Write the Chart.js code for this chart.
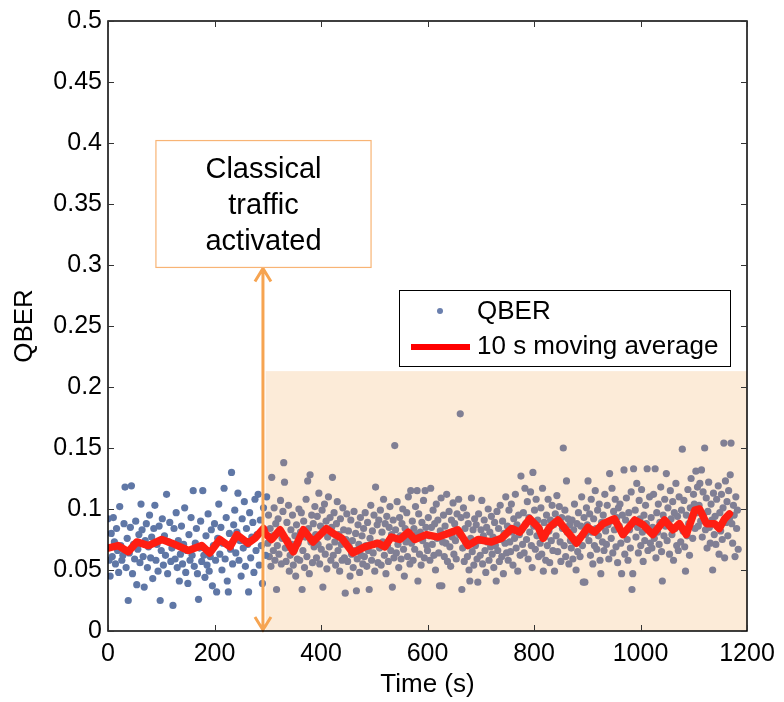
<!DOCTYPE html>
<html>
<head>
<meta charset="utf-8">
<title>QBER vs time</title>
<script src="https://cdn.jsdelivr.net/npm/chart.js@4.4.1/dist/chart.umd.min.js"></script>
<style>
    html, body { margin: 0; padding: 0; background: #fff; }
    #wrap { width: 784px; height: 702px; }
</style>
</head>
<body>
<div id="wrap"><canvas id="qber-chart" width="784" height="702"></canvas></div>
<script>
// QBER samples in units of 1e-3, before classical traffic (one every 2 s from t = 0)
const beforeStart = 0;
const beforeStep = 2;
const qberBefore = [
    92, 58, 45, 80, 61, 93, 73, 55, 84, 66, 48, 102, 70, 58, 62, 88, 118, 52, 76, 25,
    64, 85, 119, 47, 71, 59, 90, 38, 67, 79, 56, 104, 83, 61, 36, 74, 88, 52, 69, 95,
    60, 77, 43, 84, 103, 58, 71, 49, 86, 25, 66, 92, 54, 78, 62, 112, 47, 73, 89, 57,
    68, 21, 84, 59, 97, 52, 74, 41, 63, 86, 55, 71, 101, 48, 66, 39, 79, 58, 93, 62,
    115, 53, 72, 84, 47, 26, 68, 90, 57, 115, 62, 44, 78, 54, 96, 49, 61, 83, 37, 70,
    88, 58, 32, 76, 104, 63, 85, 50, 72, 117, 59, 93, 41, 32, 80, 67, 130, 55, 87, 99,
    64, 81, 113, 58, 74, 45, 92, 68, 106, 53, 84, 71, 32, 97, 60, 77, 89, 48, 108, 66,
    79, 112, 54, 91, 70, 39, 101, 83, 62, 110
];

// QBER samples in units of 1e-3, with classical traffic (one every 1.5 s from t = 300)
const afterStart = 300;
const afterStep = 1.5;
const qberAfter = [
    72, 95, 61, 84, 53, 126, 78, 66, 101, 58, 88, 34, 70, 92, 63, 81, 107, 55, 76, 98,
    138, 122, 68, 57, 89, 74, 103, 49, 62, 83, 71, 95, 54, 66, 78, 45, 87, 59, 72, 100,
    58, 81, 97, 34, 66, 90, 52, 77, 108, 61, 123, 84, 47, 128, 73, 95, 56, 88, 69, 102,
    79, 60, 94, 71, 113, 55, 86, 67, 99, 36, 82, 104, 63, 90, 51, 77, 110, 69, 93, 58,
    85, 126, 62, 97, 73, 54, 88, 106, 66, 79, 49, 92, 71, 58, 101, 83, 60, 31, 75, 96,
    57, 82, 69, 45, 91, 63, 74, 52, 98, 66, 80, 33, 59, 87, 71, 48, 93, 62, 78, 55,
    84, 61, 97, 70, 53, 89, 66, 34, 76, 103, 58, 82, 64, 95, 49, 118, 72, 87, 56, 91,
    68, 99, 54, 81, 73, 108, 62, 88, 47, 94, 70, 57, 85, 102, 66, 79, 36, 91, 60, 152,
    83, 64, 106, 71, 52, 93, 78, 59, 88, 100, 67, 45, 84, 73, 97, 61, 110, 76, 55, 115,
    72, 90, 58, 84, 67, 102, 79, 115, 41, 96, 63, 81, 54, 89, 74, 107, 60, 115, 85, 70,
    66, 93, 78, 58, 117, 85, 71, 99, 62, 88, 50, 104, 76, 91, 64, 37, 82, 109, 37, 73,
    95, 61, 86, 72, 112, 57, 80, 98, 69, 53, 91, 77, 105, 63, 88, 74, 59, 96, 82, 108,
    79, 178, 93, 34, 68, 101, 57, 84, 72, 95, 61, 88, 50, 41, 76, 109, 65, 83, 54, 92,
    70, 87, 59, 40, 96, 74, 62, 83, 107, 55, 78, 91, 66, 48, 85, 73, 100, 58, 81, 69,
    94, 63, 77, 52, 89, 70, 41, 98, 66, 84, 57, 103, 75, 61, 90, 47, 80, 72, 110, 64,
    86, 58, 99, 73, 65, 104, 81, 54, 92, 76, 112, 68, 87, 49, 95, 79, 62, 127, 83, 71,
    97, 64, 117, 88, 75, 106, 59, 93, 81, 114, 70, 52, 130, 86, 99, 67, 108, 78, 91, 61,
    84, 72, 101, 63, 117, 49, 89, 77, 58, 95, 70, 108, 82, 56, 91, 74, 103, 66, 87, 49,
    96, 78, 111, 65, 89, 102, 73, 57, 93, 84, 150, 70, 99, 61, 123, 81, 92, 55, 87, 74,
    68, 91, 59, 83, 104, 72, 50, 88, 65, 97, 76, 61, 86, 110, 70, 40, 93, 40, 79, 101,
    87, 123, 74, 96, 62, 108, 81, 55, 92, 70, 115, 84, 67, 99, 78, 104, 58, 47, 89, 73,
    95, 66, 112, 82, 71, 103, 87, 59, 129, 90, 76, 117, 64, 98, 83, 108, 69, 93, 56, 101,
    86, 104, 72, 47, 95, 80, 132, 63, 91, 109, 75, 58, 97, 83, 68, 114, 34, 47, 133, 88,
    99, 77, 121, 85, 64, 107, 92, 70, 116, 81, 57, 95, 74, 103, 88, 133, 66, 84, 110, 72,
    93, 68, 85, 112, 76, 133, 60, 97, 81, 104, 71, 89, 118, 65, 41, 95, 78, 108, 86, 129,
    74, 101, 88, 63, 115, 92, 79, 106, 58, 97, 84, 121, 70, 94, 66, 110, 87, 73, 99, 149,
    82, 107, 69, 49, 95, 78, 116, 88, 62, 101, 125, 93, 76, 112, 104, 84, 131, 97, 118, 86,
    103, 121, 90, 132, 77, 114, 96, 150, 83, 109, 68, 98, 122, 85, 72, 104, 91, 50, 113, 79,
    94, 71, 108, 86, 119, 63, 97, 82, 112, 75, 101, 154, 60, 123, 89, 106, 78, 115, 92, 128,
    154, 88, 72, 103, 95, 61, 110, 84, 99, 67
];

// 10 s moving average
const avgTime = [
    0, 19, 38, 54, 76, 101, 120, 151, 176, 191, 210, 229, 242, 263, 276, 292, 295, 307, 323, 348,
    367, 385, 410, 423, 439, 460, 482, 507, 520, 532, 548, 564, 576, 598, 620, 639, 657, 676, 695, 720,
    739, 758, 773, 792, 808, 817, 829, 845, 858, 880, 901, 914, 930, 951, 967, 989, 1005, 1023, 1045, 1061,
    1073, 1086, 1102, 1111, 1124, 1139, 1148, 1158, 1167
];
const avgValue = [
    0.068, 0.070, 0.065, 0.073, 0.070, 0.075, 0.072, 0.066, 0.070, 0.064, 0.075, 0.069, 0.079, 0.072, 0.076, 0.084, 0.080, 0.075, 0.083, 0.065,
    0.083, 0.073, 0.084, 0.080, 0.076, 0.064, 0.069, 0.072, 0.069, 0.077, 0.075, 0.081, 0.075, 0.079, 0.077, 0.080, 0.083, 0.070, 0.075, 0.073,
    0.076, 0.084, 0.081, 0.092, 0.085, 0.076, 0.085, 0.091, 0.084, 0.072, 0.085, 0.081, 0.088, 0.092, 0.079, 0.091, 0.087, 0.079, 0.091, 0.083,
    0.088, 0.079, 0.099, 0.100, 0.088, 0.088, 0.084, 0.092, 0.096
];

// axis ticks
const xTickValues = [0, 200, 400, 600, 800, 1000, 1200];
const yTickValues = [0, 0.05, 0.1, 0.15, 0.2, 0.25, 0.3, 0.35, 0.4, 0.45, 0.5];

// annotation: traffic switched on
const trafficStart = 296;
const shadeTop = 0.213;
const arrowTime = 291;
const noteLines = ['Classical', 'traffic', 'activated'];
const noteBox = { x0: 90, x1: 494, y0: 0.298, y1: 0.402 };

const FONT = '"Liberation Sans", Arial, Helvetica, sans-serif';
const BLUE = '#5f77a6';
const GREY = '#807f94';
const RED = '#ff1e12';
const ORANGE = '#f6a451';

function toPoints(values, start, step) {
    return values.map((v, i) => ({ x: start + i * step, y: v / 1000 }));
}

const beforePoints = toPoints(qberBefore, beforeStart, beforeStep);
const afterPoints = toPoints(qberAfter, afterStart, afterStep);
const avgPoints = avgTime.map((t, i) => ({ x: t, y: avgValue[i] }));

// shading behind the points, arrow / note / frame / legend on top
const decorations = {
    id: 'decorations',
    beforeDatasetsDraw(chart) {
        const { ctx, scales: { x, y } } = chart;
        const x0 = x.getPixelForValue(trafficStart);
        const x1 = x.getPixelForValue(1200);
        const y0 = y.getPixelForValue(shadeTop);
        const y1 = y.getPixelForValue(0);
        ctx.save();
        ctx.fillStyle = '#fcebd8';
        ctx.fillRect(x0, y0, x1 - x0, y1 - y0);
        ctx.restore();
    },
    afterDatasetsDraw(chart) {
        const { ctx, chartArea: area, scales: { x, y } } = chart;
        ctx.save();

        // double-headed arrow
        const ax = x.getPixelForValue(arrowTime);
        const aTop = y.getPixelForValue(noteBox.y0);
        const aBot = y.getPixelForValue(0);
        ctx.strokeStyle = ORANGE;
        ctx.lineWidth = 3;
        ctx.beginPath();
        ctx.moveTo(ax, aTop + 1);
        ctx.lineTo(ax, aBot - 1);
        ctx.moveTo(ax - 8, aTop + 14);
        ctx.lineTo(ax, aTop + 1);
        ctx.lineTo(ax + 8, aTop + 14);
        ctx.moveTo(ax - 8, aBot - 14);
        ctx.lineTo(ax, aBot - 1);
        ctx.lineTo(ax + 8, aBot - 14);
        ctx.stroke();

        // note box
        const bx0 = x.getPixelForValue(noteBox.x0);
        const bx1 = x.getPixelForValue(noteBox.x1);
        const by0 = y.getPixelForValue(noteBox.y1);
        const by1 = y.getPixelForValue(noteBox.y0);
        ctx.fillStyle = '#fff';
        ctx.fillRect(bx0, by0, bx1 - bx0, by1 - by0);
        ctx.strokeStyle = '#f8b475';
        ctx.lineWidth = 1.2;
        ctx.strokeRect(bx0, by0, bx1 - bx0, by1 - by0);
        ctx.fillStyle = '#000';
        ctx.font = '29px ' + FONT;
        ctx.textAlign = 'center';
        ctx.textBaseline = 'middle';
        noteLines.forEach((line, i) => {
            ctx.fillText(line, (bx0 + bx1) / 2, by0 + 29 + i * 36);
        });

        // frame with inward ticks on all sides
        ctx.strokeStyle = '#000';
        ctx.lineWidth = 1.5;
        ctx.strokeRect(area.left, area.top, area.right - area.left, area.bottom - area.top);
        ctx.lineWidth = 1;
        ctx.strokeStyle = '#333';
        ctx.beginPath();
        xTickValues.forEach(v => {
            const px = Math.round(x.getPixelForValue(v)) + 0.5;
            ctx.moveTo(px, area.bottom);
            ctx.lineTo(px, area.bottom - 6);
            ctx.moveTo(px, area.top);
            ctx.lineTo(px, area.top + 6);
        });
        yTickValues.forEach(v => {
            const py = Math.round(y.getPixelForValue(v)) + 0.5;
            ctx.moveTo(area.left, py);
            ctx.lineTo(area.left + 6, py);
            ctx.moveTo(area.right, py);
            ctx.lineTo(area.right - 6, py);
        });
        ctx.stroke();

        // legend
        ctx.fillStyle = '#fff';
        ctx.fillRect(399, 290, 332, 77);
        ctx.strokeStyle = '#000';
        ctx.lineWidth = 1;
        ctx.strokeRect(399.5, 290.5, 331, 76);
        ctx.fillStyle = '#6a7fae';
        ctx.beginPath();
        ctx.arc(440, 311, 3, 0, Math.PI * 2);
        ctx.fill();
        ctx.strokeStyle = '#ff0000';
        ctx.lineWidth = 6;
        ctx.beginPath();
        ctx.moveTo(411, 347);
        ctx.lineTo(470, 347);
        ctx.stroke();
        ctx.fillStyle = '#000';
        ctx.font = '26px ' + FONT;
        ctx.textAlign = 'left';
        ctx.textBaseline = 'middle';
        ctx.fillText('QBER', 477, 312);
        ctx.fillText('10 s moving average', 477, 347);

        ctx.restore();
    }
};

const tickFont = { family: FONT, size: 25 };

new Chart(document.getElementById('qber-chart'), {
    type: 'scatter',
    data: {
        datasets: [
            {
                type: 'line',
                label: '10 s moving average',
                data: avgPoints,
                borderColor: RED,
                borderWidth: 7.5,
                borderJoinStyle: 'round',
                borderCapStyle: 'round',
                pointRadius: 0,
                tension: 0,
                fill: false,
                order: 0
            },
            {
                label: 'QBER',
                data: beforePoints,
                backgroundColor: BLUE,
                borderWidth: 0,
                pointRadius: 3.6,
                order: 1
            },
            {
                label: 'QBER',
                data: afterPoints,
                backgroundColor: GREY,
                borderWidth: 0,
                pointRadius: 3.6,
                order: 2
            }
        ]
    },
    options: {
        responsive: false,
        animation: false,
        devicePixelRatio: 1,
        layout: { padding: { top: 20, right: 37, bottom: 0, left: 0 } },
        plugins: {
            legend: { display: false },
            tooltip: { enabled: false }
        },
        scales: {
            x: {
                type: 'linear',
                min: 0,
                max: 1200,
                afterBuildTicks: scale => { scale.ticks = xTickValues.map(v => ({ value: v })); },
                afterFit: scale => { scale.height = 71; },
                grid: { display: false, drawTicks: false },
                border: { display: false },
                ticks: { color: '#000', font: tickFont, padding: 8, maxRotation: 0, callback: v => String(v) },
                title: { display: true, text: 'Time (s)', color: '#000', font: { family: FONT, size: 26 }, padding: { top: 0, bottom: 2 } }
            },
            y: {
                type: 'linear',
                min: 0,
                max: 0.5,
                afterBuildTicks: scale => { scale.ticks = yTickValues.map(v => ({ value: v })); },
                afterFit: scale => { scale.width = 108; },
                grid: { display: false, drawTicks: false },
                border: { display: false },
                ticks: {
                    color: '#000',
                    font: tickFont,
                    padding: 6,
                    callback: v => String(+v.toFixed(2))
                },
                title: { display: true, text: 'QBER', color: '#000', font: { family: FONT, size: 26 }, padding: { top: 9, bottom: 0 } }
            }
        }
    },
    plugins: [decorations]
});
</script>
</body>
</html>
